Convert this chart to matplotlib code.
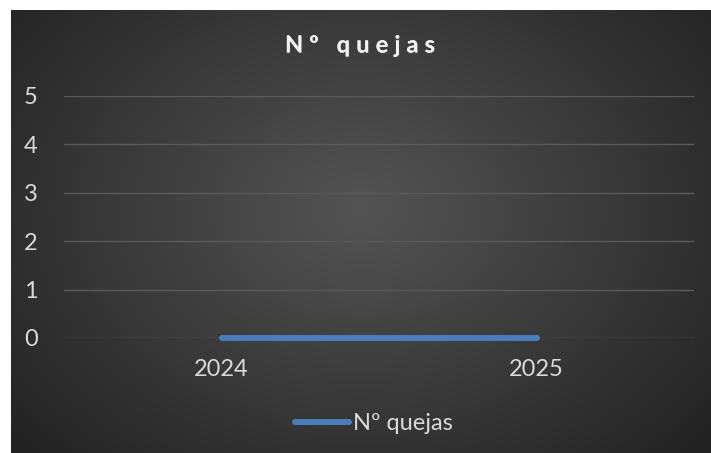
import numpy as np
import matplotlib.pyplot as plt
import matplotlib.patheffects as pe

# datos
years = ['2024', '2025']
quejas = [0, 0]
yticks = [0, 1, 2, 3, 4, 5]
serie = 'Nº quejas'

W, H = 711, 453
fig = plt.figure(figsize=(W/100, H/100), dpi=100)
fig.patch.set_facecolor('white')

# fondo oscuro con degradado radial
bg = fig.add_axes([11/W, 0, (W-11)/W, (H-10)/H])
yy, xx = np.mgrid[0:1:300j, 0:1:500j]
r = np.sqrt(((xx-0.5)/0.75)**2 + ((yy-0.45)/0.9)**2)
g = np.clip(0.33 - 0.22*r, 0.14, 0.33)
img = np.dstack([g, g, g])
bg.imshow(img, aspect='auto', extent=[0, 1, 0, 1], interpolation='bilinear')
bg.axis('off')

ax = fig.add_axes([64/W, (H-338)/H, 630/W, 242/H])
ax.set_facecolor('none')
x = np.arange(len(years))
ax.plot(x, quejas, color='#4a7ebb', lw=4.3, solid_capstyle='round', label=serie,
        zorder=3, clip_on=False)
ax.set_xlim(-0.5, len(years)-0.5)
ax.set_ylim(0, 5)
ax.set_yticks(yticks)
ax.set_xticks(x)
ax.set_xticklabels(years)
ax.grid(axis='y', color='#5a5a5a', lw=1)
ax.set_axisbelow(True)
for s in ax.spines.values():
    s.set_visible(False)
ax.tick_params(length=0, colors='#d9d9d9', labelsize=17)
ax.tick_params(axis='y', pad=19)
ax.tick_params(axis='x', pad=15)
for t in ax.get_xticklabels() + ax.get_yticklabels():
    t.set_fontfamily('Lato')
    t.set_color('#d9d9d9')

# titulo con espaciado entre letras
fig.canvas.draw()
rend = fig.canvas.get_renderer()
parts = []
for ch in serie:
    t = fig.text(0, 0, ch, color='#f2f2f2', fontsize=17, fontweight='bold',
                 family='Lato', va='center', ha='left',
                 path_effects=[pe.withSimplePatchShadow(offset=(1, -1), alpha=0.6), pe.Normal()])
    parts.append((t, t.get_window_extent(rend).width))
track = (150 - sum(w for _, w in parts)) / (len(parts) - 1)
xpos = 285
for t, w in parts:
    t.set_position((xpos/W, (H-45)/H))
    xpos += w + track

leg = fig.legend(loc='center', bbox_to_anchor=(374/W, (H-424)/H), frameon=False,
                 handlelength=2.3, handletextpad=0.15, prop={'family': 'Lato', 'size': 17})
for t in leg.get_texts():
    t.set_color('#d9d9d9')

fig.savefig('out.png', dpi=100)
